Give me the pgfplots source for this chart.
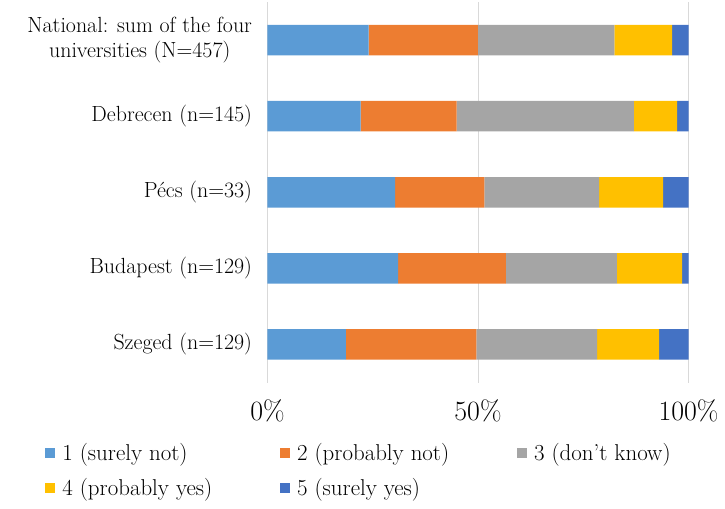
\documentclass[border=0pt]{standalone}
\usepackage{pgfplots}
\pgfplotsset{compat=1.18}
\definecolor{c1}{HTML}{5B9BD5}
\definecolor{c2}{HTML}{ED7D31}
\definecolor{c3}{HTML}{A5A5A5}
\definecolor{c4}{HTML}{FFC000}
\definecolor{c5}{HTML}{4472C4}
\definecolor{gridgray}{HTML}{D9D9D9}
\begin{document}
\begin{tikzpicture}
\begin{axis}[
  name=ax,
  scale only axis,
  width=421bp, height=380.5bp,
  xbar stacked,
  bar width=30.5bp,
  xmin=0, xmax=100,
  ymin=-0.5, ymax=4.5,
  axis line style={draw=none},
  xtick={0,50,100},
  xticklabels={0\%,50\%,100\%},
  xmajorgrids,
  grid style={color=gridgray, line width=0.8bp},
  major tick length=0pt,
  ytick={0,...,4},
  yticklabels={Szeged (n=129), Budapest (n=129), Pécs (n=33), Debrecen (n=145),
    {National: sum of the four\\universities (N=457)}},
  yticklabel style={font=\fontsize{22}{25}\selectfont, align=center, xshift=-12bp},
  xticklabel style={font=\fontsize{28}{30}\selectfont, yshift=-14bp},
  legend columns=3,
  legend cell align=left,
  legend style={draw=none, at={(-0.535,-0.15)}, anchor=north west,
    font=\fontsize{23}{25}\selectfont, row sep=12bp,
    /tikz/every even column/.append style={column sep=66bp}},
  legend image code/.code={\fill[#1] (0bp,-5bp) rectangle (10bp,5bp); \path (15bp,0bp);},
]
\addplot[fill=c1, draw=none] coordinates {(18.6,0) (31.0,1) (30.3,2) (22.1,3) (24.0,4)};
\addlegendentry{1 (surely not)}
\addplot[fill=c2, draw=none] coordinates {(31.0,0) (25.6,1) (21.2,2) (22.8,3) (26.0,4)};
\addlegendentry{2 (probably not)}
\addplot[fill=c3, draw=none] coordinates {(28.7,0) (26.4,1) (27.3,2) (42.1,3) (32.4,4)};
\addlegendentry{3 (don't know)}
\addplot[fill=c4, draw=none] coordinates {(14.7,0) (15.5,1) (15.2,2) (10.3,3) (13.7,4)};
\addlegendentry{4 (probably yes)}
\addplot[fill=c5, draw=none] coordinates {(7.0,0) (1.5,1) (6.0,2) (2.7,3) (3.9,4)};
\addlegendentry{5 (surely yes)}
\end{axis}
\pgfresetboundingbox
\path[use as bounding box] ([shift={(-267.5bp,-126.5bp)}]ax.south west)
  rectangle ([shift={(457.5bp,382.5bp)}]ax.south west);
\end{tikzpicture}
\end{document}
